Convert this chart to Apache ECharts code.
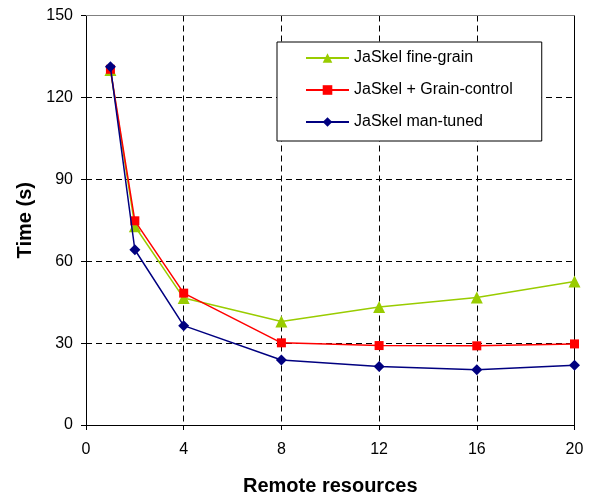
<!DOCTYPE html>
<html><head><meta charset="utf-8">
<script src="https://cdn.jsdelivr.net/npm/echarts@6/dist/echarts.min.js"></script>
<style>html,body{margin:0;padding:0;background:#fff}#c{width:590px;height:495px}</style>
</head><body><div id="c"></div>
<script>
const xValues = [1, 2, 4, 8, 12, 16, 20];
const fineGrain = [130, 72.8, 46.5, 37.9, 43.2, 46.7, 52.6];
const grainControl = [130.3, 74.8, 48.3, 30.1, 29.1, 29.0, 29.7];
const manTuned = [131.2, 64.2, 36.4, 23.8, 21.4, 20.2, 21.9];
const seriesNames = ['JaSkel fine-grain', 'JaSkel + Grain-control', 'JaSkel man-tuned'];
const xTicks = [0, 4, 8, 12, 16, 20];
const yTicks = [0, 30, 60, 90, 120, 150];

const pair = arr => xValues.map((x, i) => [x, arr[i]]);
const font = 'Liberation Sans, Arial, sans-serif';
const dash = {color: '#000', width: 1, type: [6, 4]};

const chart = echarts.init(document.getElementById('c'), null, {renderer: 'canvas'});
chart.setOption({
  animation: false,
  backgroundColor: '#fff',
  grid: {left: 86, right: 15.5, top: 15.5, bottom: 70, containLabel: false, outerBoundsMode: 'none'},
  legend: {
    orient: 'vertical', left: 277, top: 42,
    padding: [8, 29, 11, 28],
    borderColor: '#000', borderWidth: 1, backgroundColor: '#fff',
    itemWidth: 43, itemHeight: 12, itemGap: 16,
    textStyle: {fontFamily: font, fontSize: 16, color: '#000'},
    data: seriesNames
  },
  xAxis: [{
    type: 'value', min: xTicks[0], max: xTicks[xTicks.length - 1], interval: 4,
    name: 'Remote resources', nameLocation: 'middle', nameGap: 51,
    nameTextStyle: {fontFamily: font, fontSize: 20, fontWeight: 'bold', color: '#000'},
    axisLine: {lineStyle: {color: '#000', width: 1}},
    axisTick: {show: true, length: 5, lineStyle: {color: '#000'}},
    axisLabel: {fontFamily: font, fontSize: 16, color: '#000', margin: 17},
    splitLine: {show: true, lineStyle: dash}
  }, {
    type: 'value', position: 'top', min: 0, max: 20, interval: 4,
    axisLine: {show: true, onZero: false, lineStyle: {color: '#808080', width: 1}},
    axisTick: {show: false}, axisLabel: {show: false}, splitLine: {show: false}
  }],
  yAxis: [{
    type: 'value', min: yTicks[0], max: yTicks[yTicks.length - 1], interval: 30,
    name: 'Time (s)', nameLocation: 'middle', nameGap: 51,
    nameTextStyle: {fontFamily: font, fontSize: 20, fontWeight: 'bold', color: '#000'},
    axisLine: {show: true, lineStyle: {color: '#000', width: 1}},
    axisTick: {show: true, length: 5, lineStyle: {color: '#000'}},
    axisLabel: {fontFamily: font, fontSize: 16, color: '#000', margin: 13},
    splitLine: {show: true, lineStyle: dash}
  }, {
    type: 'value', position: 'right', min: 0, max: 150, interval: 30,
    axisLine: {show: true, onZero: false, lineStyle: {color: '#000', width: 1}},
    axisTick: {show: false}, axisLabel: {show: false}, splitLine: {show: false}
  }],
  series: [{
    name: seriesNames[0], type: 'line', data: pair(fineGrain),
    symbol: 'triangle', symbolSize: 12,
    lineStyle: {color: '#99CC00', width: 1.5}, itemStyle: {color: '#99CC00'}, z: 3
  }, {
    name: seriesNames[1], type: 'line', data: pair(grainControl),
    symbol: 'rect', symbolSize: 9,
    lineStyle: {color: '#FF0000', width: 1.5}, itemStyle: {color: '#FF0000'}, z: 4
  }, {
    name: seriesNames[2], type: 'line', data: pair(manTuned),
    symbol: 'diamond', symbolSize: 11,
    lineStyle: {color: '#000080', width: 1.5}, itemStyle: {color: '#000080'}, z: 5
  }]
});
</script></body></html>
